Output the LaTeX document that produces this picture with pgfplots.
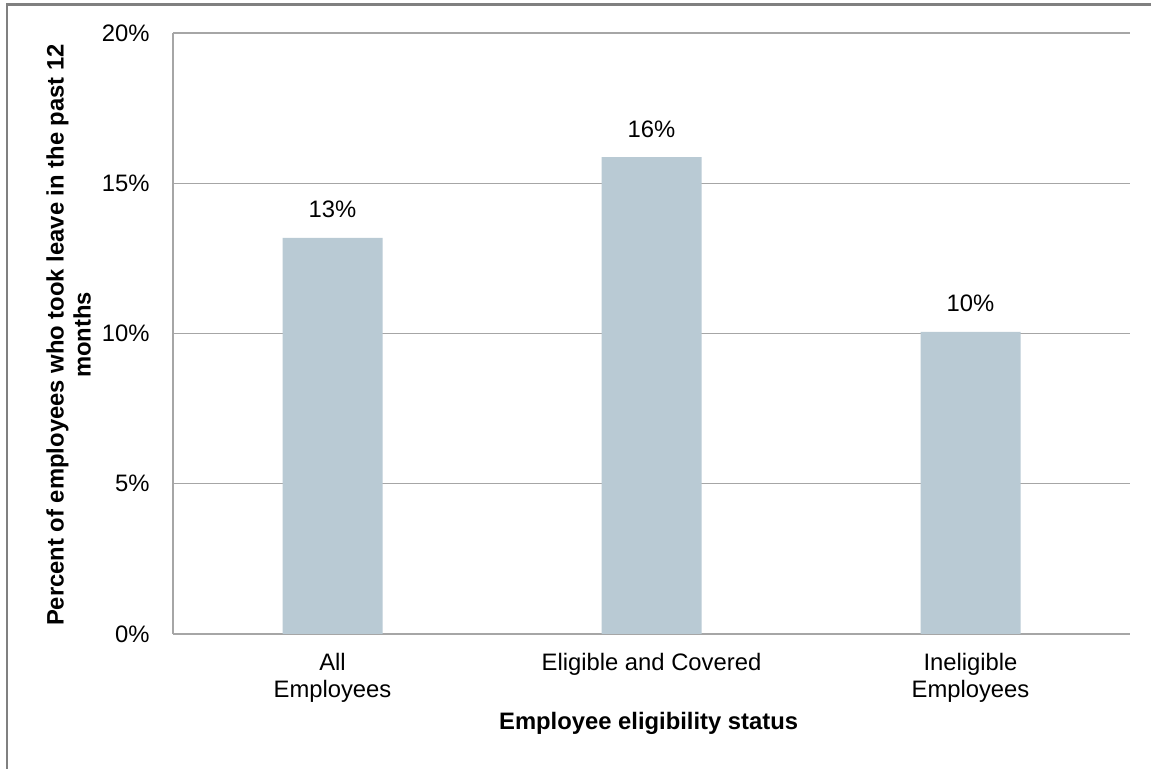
\documentclass[border=0pt]{standalone}
\usepackage{pgfplots}
\pgfplotsset{compat=1.18}
\usepackage{fontspec}
\setmainfont{Liberation Sans}
\definecolor{barc}{HTML}{B9CAD4}
\definecolor{gridc}{HTML}{A6A6A6}
\definecolor{framec}{HTML}{808080}
\begin{document}
\begin{tikzpicture}
\useasboundingbox (0,0) rectangle (575.5pt,384.5pt);
\fill[white] (0,0) rectangle (575.5pt,384.5pt);
\draw[framec, line width=1.2pt] (3.5pt,0) -- (3.5pt,382.3pt) -- (576pt,382.3pt);
\begin{axis}[
  at={(86.5pt,67.5pt)}, anchor=south west,
  scale only axis, width=478.5pt, height=300.5pt,
  /pgf/number format/assume math mode=true,
  font=\fontsize{11.9}{13.5}\selectfont,
  xmin=-0.5, xmax=2.5, ymin=0, ymax=20,
  axis x line=bottom, axis y line=left,
  axis line style={gridc, line width=0.8pt, -},
  major tick length=0pt,
  xtick={0,1,2},
  xticklabels={All\\Employees, Eligible and Covered, Ineligible\\Employees},
  xticklabel style={anchor=north, yshift=-9.5pt, inner sep=0pt, align=center},
  ytick={0,5,10,15,20},
  yticklabel={\pgfmathprintnumber{\tick}\%},
  yticklabel style={anchor=east, inner sep=0pt, xshift=-11.5pt},
  ymajorgrids, major grid style={gridc, line width=0.6pt},
  xlabel={\bfseries Employee eligibility status},
  xlabel style={at={(axis description cs:0.497,0)}, anchor=center, yshift=-44.5pt, inner sep=0pt},
  ylabel={\bfseries Percent of employees who took leave in the past 12\\\bfseries months},
  ylabel style={at={(axis description cs:-0.109,0.4975)}, anchor=center, align=center, inner sep=0pt, rotate=0},
  clip=false,
]
\addplot[ybar, bar width=50pt, fill=barc, draw=none,
  nodes near coords={\pgfmathprintnumber[fixed,precision=0]{\pgfplotspointmeta}\%},
  nodes near coords style={anchor=base, inner sep=0pt, yshift=10pt, black}]
  coordinates {(0,13.18) (1,15.87) (2,10.05)};
\end{axis}
\end{tikzpicture}
\end{document}
